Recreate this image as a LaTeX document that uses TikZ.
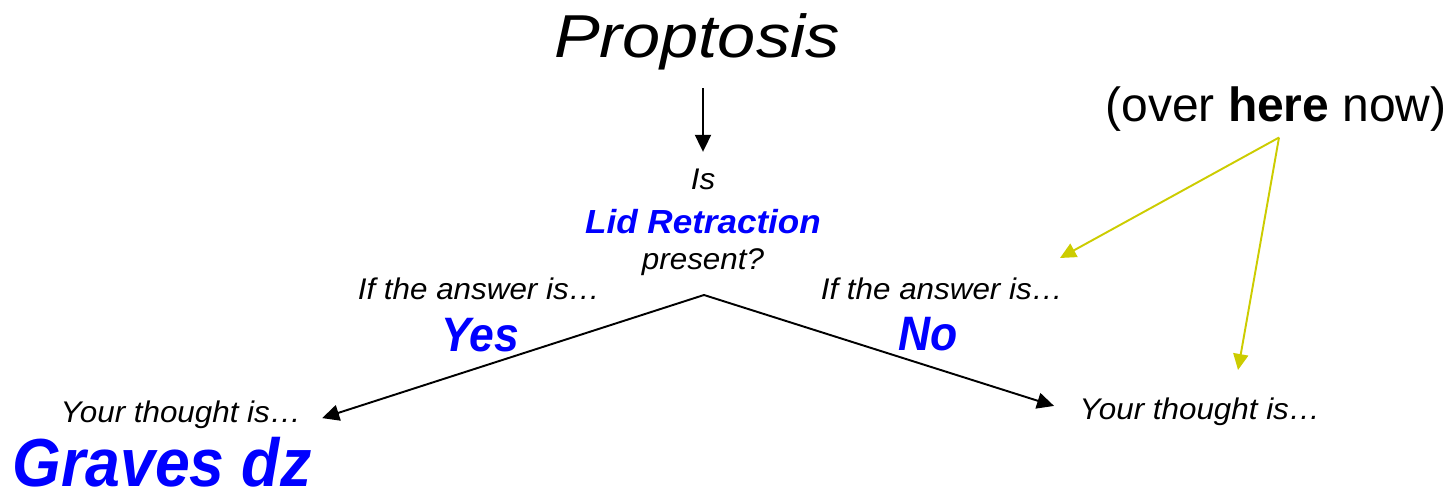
\documentclass[tikz,border=0pt]{standalone}
\usepackage{fontspec}
\setmainfont{Liberation Sans}
\newfontfamily\widesans[FakeStretch=1.05]{Liberation Sans}
\newfontfamily\headsans[FakeStretch=1.13]{Liberation Sans}
\newfontfamily\narrowsans[FakeStretch=0.92]{Liberation Sans}
\usetikzlibrary{arrows.meta}
\definecolor{answerblue}{RGB}{0,0,255}
\definecolor{hintyellow}{RGB}{204,204,0}

\begin{document}
\begin{tikzpicture}[
    x=0.02cm, y=-0.02cm,
    textnode/.style={anchor=base, inner sep=3pt},
    headline/.style={textnode, font=\headsans\itshape\fontsize{34.5}{40}\selectfont},
    prompt/.style={textnode, font=\widesans\itshape\fontsize{17}{20}\selectfont},
    keyword/.style={textnode, text=answerblue, font=\widesans\bfseries\itshape\fontsize{19}{23}\selectfont},
    answer/.style={textnode, text=answerblue, font=\narrowsans\bfseries\itshape\fontsize{27.5}{32}\selectfont},
    verdict/.style={textnode, inner sep=0pt, text=answerblue, font=\narrowsans\bfseries\itshape\fontsize{38.7}{46}\selectfont},
    asidetext/.style={textnode, font=\fontsize{27.3}{32}\selectfont},
    flow/.style={line width=1.1pt, -{Triangle[length=3.4mm,width=3.2mm]}},
    hint/.style={draw=hintyellow, line width=1.1pt, -{Triangle[length=3.2mm,width=3mm]}}
]
\useasboundingbox (0,0) rectangle (1455,496);

% question
\node[headline] (title) at (697,58) {Proptosis};
\node[prompt] (is) at (703,190) {Is};
\node[keyword] (lid) at (703,234) {Lid Retraction};
\node[prompt] (present) at (703,270) {present?};

% answers
\node[prompt] (ifyes) at (479,300) {If the answer is…};
\node[prompt] (ifno) at (942,300) {If the answer is…};
\node[answer] (yes) at (480,352) {Yes};
\node[answer] (no) at (928,351) {No};

% thoughts
\node[prompt] (thoughtyes) at (181,423) {Your thought is…};
\node[prompt] (thoughtno) at (1200,420) {Your thought is…};
\node[verdict] (graves) at (162,487) {Graves dz};

% aside
\node[asidetext] (over) at (1276,122) {(over \textbf{here} now)};

% branches
\coordinate (split) at (704,295);
\draw[flow, shorten <=0.24cm, shorten >=0.24cm] (title.south -| is.north) -- (is.north);
\draw[flow, shorten >=0.32cm] (split) -- (thoughtyes.base east);
\draw[flow, shorten >=0.42cm] (split) -- (thoughtno.west);

% pointers from the aside
\coordinate (hintifno) at (1060,258);
\coordinate (hintthought) at (1238,370);
\draw[hint] ([xshift=0.06cm]over.south) -- (hintifno);
\draw[hint] ([xshift=0.06cm]over.south) -- (hintthought);

\end{tikzpicture}
\end{document}
